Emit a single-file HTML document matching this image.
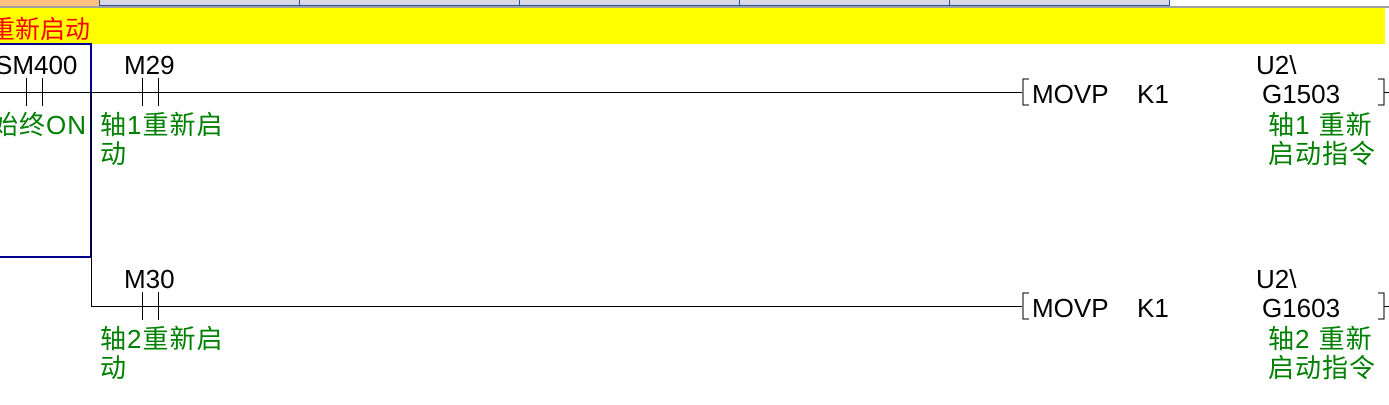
<!DOCTYPE html>
<html><head><meta charset="utf-8"><style>
body{margin:0;width:1389px;height:400px;overflow:hidden;background:#fff}
svg text{font-family:"Liberation Sans","Noto Sans CJK SC",sans-serif}
</style></head><body>
<svg width="1389" height="400" xmlns="http://www.w3.org/2000/svg">
<rect x="0" y="0" width="1389" height="7" fill="#fff"/>
<rect x="0" y="0" width="99" height="6" fill="#ffc080"/>
<rect x="99" y="0" width="1071" height="5" fill="#d8d8e4"/>
<g stroke="#3050a0" stroke-width="1">
<line x1="99.5" y1="0" x2="99.5" y2="5"/><line x1="299.5" y1="0" x2="299.5" y2="5"/><line x1="519.5" y1="0" x2="519.5" y2="5"/><line x1="739.5" y1="0" x2="739.5" y2="5"/><line x1="949.5" y1="0" x2="949.5" y2="5"/><line x1="1169.5" y1="0" x2="1169.5" y2="5"/>
<line x1="99" y1="5.5" x2="1170" y2="5.5"/>
</g>
<rect x="0" y="6" width="1389" height="2" fill="#a0a0a0"/>
<rect x="0" y="8" width="1385" height="36" fill="#ffff00"/>
<text x="-10" y="38" font-size="25" fill="#ff0000">重新启动</text>
<rect x="-2" y="44" width="93" height="213" fill="none" stroke="#000090" stroke-width="2"/>
<g stroke="#000" stroke-width="1" fill="none">
<line x1="0" y1="92.5" x2="1022" y2="92.5"/>
<line x1="26.5" y1="78" x2="26.5" y2="106"/><line x1="42.5" y1="78" x2="42.5" y2="106"/>
<line x1="142.5" y1="78" x2="142.5" y2="106"/><line x1="158.5" y1="78" x2="158.5" y2="106"/>
<line x1="91.5" y1="92" x2="91.5" y2="306"/>
<line x1="91" y1="306.5" x2="1022" y2="306.5"/>
<line x1="142.5" y1="292" x2="142.5" y2="320"/><line x1="158.5" y1="292" x2="158.5" y2="320"/>
<path d="M1029,79 h-6 v26 h6"/><path d="M1378,79 h6 v26 h-6"/>
<path d="M1029,293 h-6 v26 h6"/><path d="M1378,293 h6 v26 h-6"/>
<line x1="1384" y1="92.5" x2="1389" y2="92.5"/><line x1="1384" y1="306.5" x2="1389" y2="306.5"/>
</g>
<g font-size="26" fill="#000">
<text x="-5" y="74">SM400</text><text x="124" y="74">M29</text>
<text x="1032" y="103">MOVP</text><text x="1137" y="103">K1</text>
<text x="1256" y="74">U2\</text><text x="1262" y="103">G1503</text>
<text x="124" y="288">M30</text>
<text x="1032" y="317">MOVP</text><text x="1137" y="317">K1</text>
<text x="1256" y="288">U2\</text><text x="1262" y="317">G1603</text>
</g>
<g font-size="26" fill="#008000" letter-spacing="1">
<text x="-8" y="134">始终ON</text>
<text x="100" y="134">轴1重新启</text><text x="100" y="163">动</text>
<text x="1268" y="134">轴1 重新</text><text x="1268" y="163">启动指令</text>
<text x="100" y="348">轴2重新启</text><text x="100" y="377">动</text>
<text x="1268" y="348">轴2 重新</text><text x="1268" y="377">启动指令</text>
</g>
</svg>
</body></html>
